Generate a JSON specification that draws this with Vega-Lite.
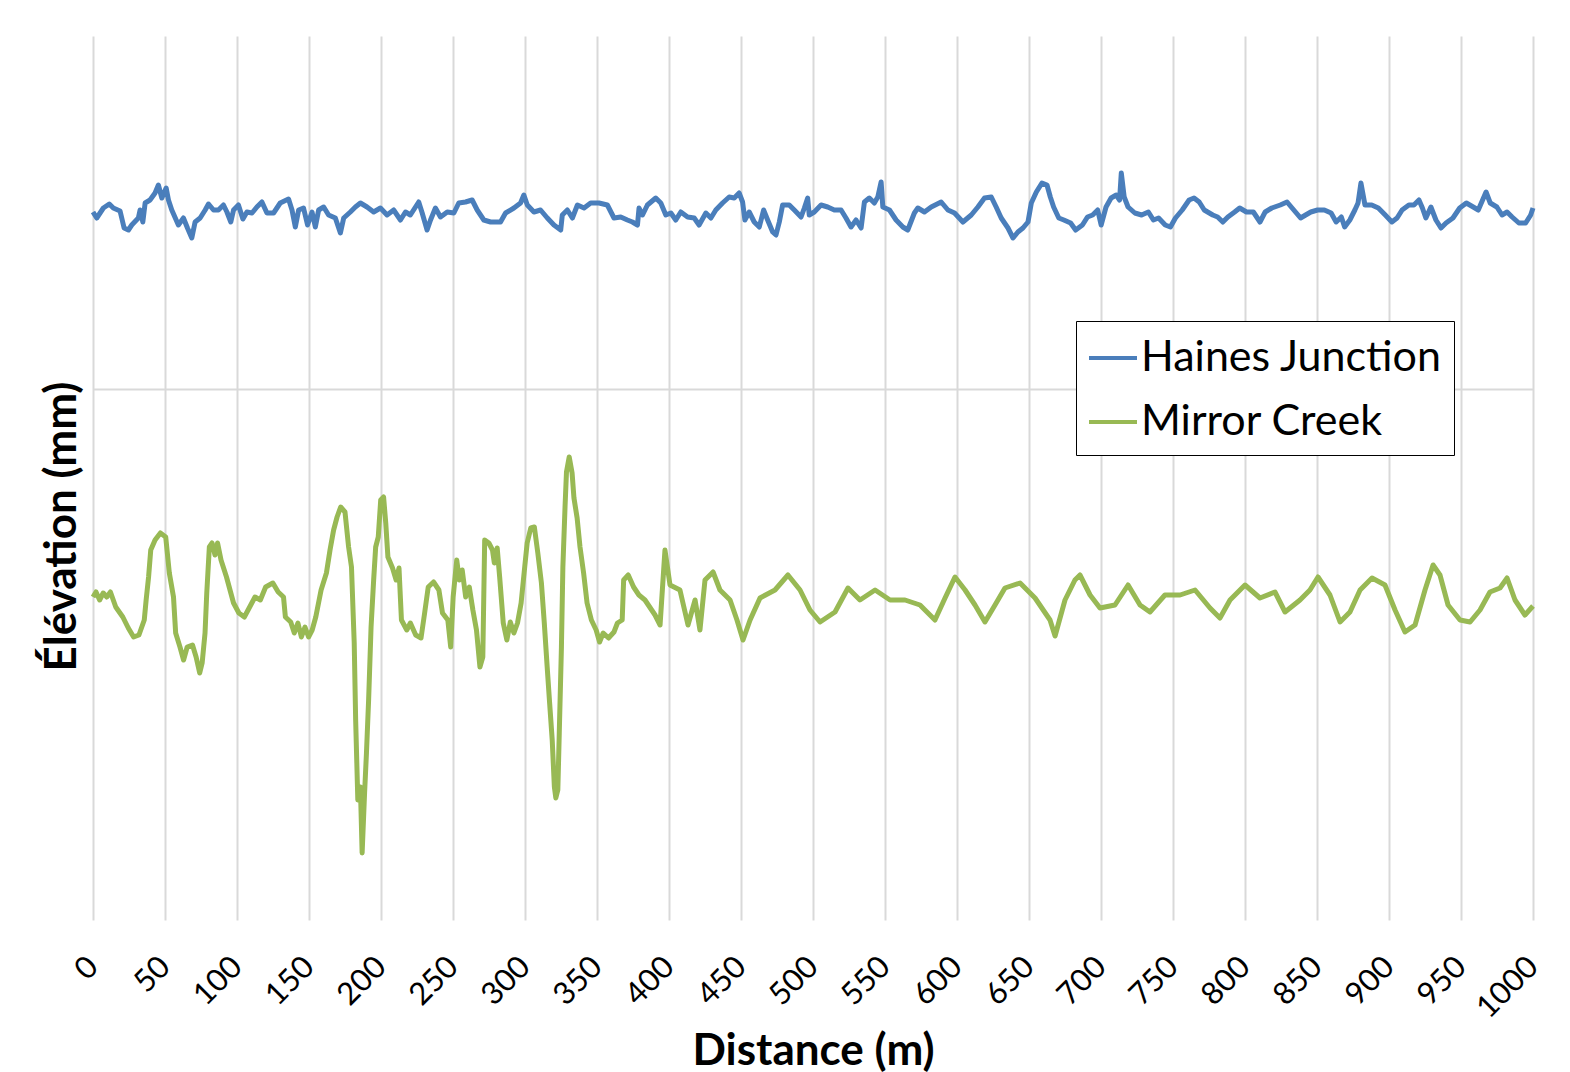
{
"$schema": "https://vega.github.io/schema/vega-lite/v6.json",
"width": 1440, "height": 884,
"autosize": {"type": "none"},
"padding": {"left": 93, "top": 36, "right": 37, "bottom": 152},
"background": "white",
"config": {"view": {"stroke": null}, "font": "Lato"},
"datasets": {
"hj": [
{"d":0,"v":17.7},{"d":2.6,"v":17.1},{"d":4.9,"v":17.6},{"d":7.2,"v":18.1},{"d":11.3,"v":18.5},{"d":14.1,"v":18.1},{"d":18.8,"v":17.8},{"d":21.6,"v":16.1},{"d":24.6,"v":15.9},{"d":26.9,"v":16.4},{"d":31.5,"v":17.1},{"d":32.7,"v":17.9},{"d":34.6,"v":16.7},{"d":36.2,"v":18.6},{"d":39.6,"v":18.9},{"d":43.1,"v":19.6},{"d":45.4,"v":20.4},{"d":47.8,"v":19.1},{"d":50.8,"v":20.1},{"d":52.4,"v":18.9},{"d":54.7,"v":17.9},{"d":59.3,"v":16.4},{"d":62.8,"v":17.1},{"d":65.6,"v":16.1},{"d":68.6,"v":15.1},{"d":70.9,"v":16.7},{"d":74.4,"v":17.1},{"d":77.9,"v":17.9},{"d":80.2,"v":18.5},{"d":83.7,"v":17.9},{"d":87.1,"v":17.9},{"d":90.6,"v":18.4},{"d":93.0,"v":17.7},{"d":95.7,"v":16.7},{"d":97.6,"v":17.9},{"d":101.0,"v":18.4},{"d":104.1,"v":17.0},{"d":106.9,"v":17.7},{"d":110.4,"v":17.6},{"d":113.8,"v":18.2},{"d":117.3,"v":18.7},{"d":120.8,"v":17.6},{"d":125.4,"v":17.6},{"d":130.0,"v":18.6},{"d":135.8,"v":19.0},{"d":138.2,"v":17.9},{"d":140.5,"v":16.2},{"d":142.8,"v":17.9},{"d":146.2,"v":18.1},{"d":149.0,"v":16.4},{"d":152.1,"v":17.7},{"d":154.4,"v":16.2},{"d":156.7,"v":17.9},{"d":160.2,"v":18.2},{"d":163.6,"v":17.4},{"d":168.3,"v":17.1},{"d":171.8,"v":15.6},{"d":174.1,"v":17.1},{"d":178.7,"v":17.7},{"d":182.2,"v":18.2},{"d":185.7,"v":18.6},{"d":190.3,"v":18.2},{"d":194.9,"v":17.7},{"d":199.6,"v":18.1},{"d":204.2,"v":17.4},{"d":208.8,"v":17.9},{"d":213.5,"v":16.9},{"d":217.0,"v":17.7},{"d":220.4,"v":17.4},{"d":226.2,"v":18.7},{"d":228.6,"v":17.6},{"d":232.0,"v":15.9},{"d":234.4,"v":16.9},{"d":237.8,"v":18.1},{"d":241.3,"v":17.2},{"d":246.0,"v":17.7},{"d":250.6,"v":17.6},{"d":254.0,"v":18.6},{"d":258.7,"v":18.7},{"d":263.3,"v":18.9},{"d":266.8,"v":17.9},{"d":271.4,"v":16.9},{"d":276.1,"v":16.7},{"d":283.0,"v":16.7},{"d":286.5,"v":17.6},{"d":292.3,"v":18.1},{"d":296.9,"v":18.6},{"d":299.2,"v":19.4},{"d":301.6,"v":18.4},{"d":306.2,"v":17.7},{"d":310.8,"v":17.9},{"d":315.5,"v":17.1},{"d":320.1,"v":16.4},{"d":324.8,"v":15.9},
{"d":325.9,"v":17.4},{"d":329.4,"v":17.9},{"d":332.9,"v":17.1},{"d":336.4,"v":18.4},{"d":341.0,"v":18.1},{"d":345.6,"v":18.6},{"d":351.4,"v":18.6},{"d":357.2,"v":18.4},{"d":361.8,"v":17.1},{"d":366.5,"v":17.2},{"d":371.1,"v":16.9},{"d":374.6,"v":16.7},{"d":378.1,"v":16.4},{"d":379.2,"v":18.1},{"d":381.6,"v":17.4},{"d":385.0,"v":18.4},{"d":390.8,"v":19.1},{"d":394.3,"v":18.6},{"d":397.8,"v":17.4},{"d":401.3,"v":17.6},{"d":404.7,"v":16.9},{"d":408.2,"v":17.7},{"d":412.9,"v":17.2},{"d":417.5,"v":17.1},{"d":420.9,"v":16.4},{"d":425.6,"v":17.6},{"d":429.1,"v":17.1},{"d":432.5,"v":17.9},{"d":437.2,"v":18.6},{"d":441.8,"v":19.2},{"d":445.3,"v":19.1},{"d":448.7,"v":19.6},{"d":451.1,"v":18.7},{"d":452.7,"v":16.9},{"d":455.7,"v":17.7},{"d":459.2,"v":16.7},{"d":462.7,"v":16.2},{"d":465.7,"v":17.9},{"d":468.5,"v":16.9},{"d":472.0,"v":15.7},{"d":474.3,"v":15.4},{"d":476.6,"v":16.7},{"d":478.9,"v":18.4},{"d":483.5,"v":18.4},{"d":487.0,"v":17.9},{"d":491.7,"v":17.2},{"d":494.0,"v":18.1},{"d":496.3,"v":19.1},{"d":497.4,"v":17.4},{"d":500.9,"v":17.7},{"d":505.6,"v":18.4},{"d":510.2,"v":18.2},{"d":514.8,"v":17.9},{"d":519.5,"v":17.9},{"d":522.9,"v":17.1},{"d":526.4,"v":16.2},{"d":529.9,"v":16.9},{"d":533.4,"v":16.1},{"d":535.7,"v":18.7},{"d":539.1,"v":19.1},{"d":542.6,"v":18.6},{"d":545.0,"v":19.2},{"d":547.3,"v":20.7},{"d":548.5,"v":18.2},{"d":553.1,"v":17.9},{"d":557.7,"v":16.9},{"d":562.4,"v":16.2},{"d":565.8,"v":15.9},{"d":570.4,"v":17.6},{"d":572.8,"v":18.1},{"d":577.4,"v":17.7},{"d":582.1,"v":18.2},{"d":589.0,"v":18.7},{"d":593.7,"v":17.9},{"d":598.3,"v":17.6},{"d":604.1,"v":16.7},{"d":609.9,"v":17.4},{"d":614.5,"v":18.2},{"d":619.1,"v":19.1},{"d":623.8,"v":19.2},{"d":627.2,"v":18.2},{"d":630.7,"v":17.1},{"d":635.4,"v":16.1},{"d":638.9,"v":15.1},{"d":642.3,"v":15.7},{"d":645.8,"v":16.1},{"d":649.3,"v":16.7},{"d":651.6,"v":18.6},{"d":655.1,"v":19.7},{"d":659.0,"v":20.6},
{"d":662.5,"v":20.4},{"d":664.8,"v":19.2},{"d":667.1,"v":18.2},{"d":670.7,"v":17.1},{"d":674.2,"v":16.9},{"d":678.9,"v":16.6},{"d":682.4,"v":15.9},{"d":687.1,"v":16.4},{"d":690.6,"v":17.2},{"d":694.2,"v":17.4},{"d":697.7,"v":17.9},{"d":700.1,"v":16.4},{"d":703.5,"v":18.2},{"d":707.0,"v":19.1},{"d":710.6,"v":19.4},{"d":712.9,"v":18.9},{"d":714.1,"v":21.6},{"d":716.1,"v":19.2},{"d":718.8,"v":18.2},{"d":723.5,"v":17.6},{"d":728.2,"v":17.4},{"d":732.9,"v":17.7},{"d":736.4,"v":16.9},{"d":740.0,"v":17.1},{"d":744.6,"v":16.4},{"d":748.2,"v":16.2},{"d":751.7,"v":17.1},{"d":756.4,"v":17.9},{"d":761.2,"v":18.9},{"d":764.6,"v":19.1},{"d":768.2,"v":18.7},{"d":771.7,"v":17.9},{"d":777.6,"v":17.4},{"d":781.0,"v":17.2},{"d":784.6,"v":16.7},{"d":788.1,"v":17.2},{"d":792.8,"v":17.7},{"d":796.3,"v":18.1},{"d":801.0,"v":17.7},{"d":805.8,"v":17.7},{"d":810.4,"v":16.7},{"d":814.0,"v":17.7},{"d":818.6,"v":18.1},{"d":824.5,"v":18.4},{"d":829.2,"v":18.7},{"d":832.7,"v":18.1},{"d":838.6,"v":17.1},{"d":842.1,"v":17.4},{"d":845.7,"v":17.7},{"d":850.4,"v":17.9},{"d":855.1,"v":17.9},{"d":859.8,"v":17.6},{"d":863.3,"v":16.7},{"d":866.9,"v":17.2},{"d":869.2,"v":16.2},{"d":872.8,"v":16.9},{"d":876.3,"v":17.9},{"d":878.5,"v":18.6},{"d":880.5,"v":20.6},{"d":883.3,"v":18.4},{"d":888.0,"v":18.4},{"d":892.6,"v":18.1},{"d":897.4,"v":17.4},{"d":902.0,"v":16.7},{"d":905.6,"v":17.1},{"d":909.1,"v":17.9},{"d":913.8,"v":18.4},{"d":917.3,"v":18.4},{"d":920.8,"v":18.9},{"d":923.2,"v":18.1},{"d":925.6,"v":17.1},{"d":929.1,"v":18.2},{"d":932.6,"v":16.9},{"d":936.1,"v":16.1},{"d":939.6,"v":16.6},{"d":944.4,"v":17.1},{"d":949.1,"v":18.1},{"d":953.7,"v":18.6},{"d":958.5,"v":18.2},{"d":962.0,"v":17.9},{"d":965.6,"v":19.1},{"d":967.4,"v":19.7},{"d":970.3,"v":18.6},{"d":974.9,"v":18.2},{"d":978.5,"v":17.4},{"d":982.0,"v":17.7},{"d":985.5,"v":17.2},{"d":990.2,"v":16.6},{"d":994.9,"v":16.6},{"d":998.4,"v":17.4},{"d":1000,"v":18.1}
],
"mc": [
{"d":0,"v":-20.8},{"d":2.1,"v":-20.3},{"d":4.6,"v":-21.1},{"d":7.1,"v":-20.4},{"d":9.6,"v":-20.8},{"d":12.1,"v":-20.3},{"d":15.8,"v":-21.8},{"d":20.7,"v":-22.8},{"d":24.5,"v":-23.9},{"d":28.2,"v":-24.8},{"d":31.9,"v":-24.6},{"d":35.6,"v":-23.1},{"d":36.9,"v":-21.1},{"d":38.6,"v":-18.8},{"d":40.1,"v":-16.1},{"d":43.1,"v":-15.1},{"d":46.8,"v":-14.4},{"d":50.5,"v":-14.8},{"d":53.0,"v":-18.4},{"d":55.9,"v":-20.8},{"d":57.4,"v":-24.4},{"d":60.4,"v":-25.8},{"d":62.9,"v":-27.1},{"d":65.4,"v":-25.8},{"d":69.1,"v":-25.6},{"d":71.6,"v":-26.8},{"d":74.1,"v":-28.4},{"d":75.8,"v":-27.4},{"d":77.8,"v":-24.4},{"d":79.0,"v":-20.4},{"d":80.8,"v":-15.8},{"d":82.7,"v":-15.4},{"d":84.7,"v":-16.6},{"d":86.5,"v":-15.4},{"d":88.9,"v":-17.1},{"d":92.7,"v":-18.8},{"d":97.6,"v":-21.4},{"d":101.3,"v":-22.4},{"d":105.1,"v":-22.8},{"d":108.8,"v":-21.8},{"d":112.5,"v":-20.8},{"d":116.2,"v":-21.1},{"d":119.9,"v":-19.8},{"d":124.9,"v":-19.4},{"d":128.6,"v":-20.3},{"d":132.3,"v":-20.8},{"d":133.6,"v":-22.8},{"d":137.3,"v":-23.3},{"d":139.8,"v":-24.4},{"d":142.3,"v":-23.4},{"d":144.7,"v":-24.8},{"d":147.2,"v":-23.8},{"d":149.7,"v":-24.8},{"d":152.2,"v":-24.1},{"d":154.7,"v":-22.8},{"d":158.4,"v":-20.1},{"d":162.1,"v":-18.4},{"d":164.6,"v":-16.1},{"d":167.1,"v":-14.1},{"d":169.5,"v":-12.8},{"d":172.0,"v":-11.8},{"d":175.0,"v":-12.3},{"d":177.5,"v":-15.8},{"d":179.5,"v":-17.8},{"d":181.4,"v":-25.4},{"d":182.4,"v":-33.1},{"d":183.9,"v":-41.1},{"d":185.7,"v":-39.8},{"d":186.9,"v":-46.4},{"d":188.6,"v":-40.4},{"d":189.9,"v":-36.4},{"d":191.4,"v":-31.1},{"d":193.1,"v":-23.8},{"d":194.9,"v":-19.1},{"d":196.3,"v":-15.8},{"d":198.1,"v":-14.8},{"d":199.8,"v":-11.1},{"d":201.8,"v":-10.8},{"d":203.3,"v":-13.4},{"d":204.8,"v":-16.8},{"d":208.0,"v":-17.9},{"d":210.5,"v":-19.1},{"d":212.5,"v":-17.9},{"d":214.2,"v":-23.1},{"d":217.9,"v":-24.1},{"d":220.4,"v":-23.4},{"d":224.1,"v":-24.6},{"d":227.8,"v":-24.9},{"d":230.3,"v":-22.4},{"d":232.8,"v":-19.8},{"d":236.5,"v":-19.3},{"d":240.2,"v":-20.1},{"d":242.7,"v":-22.4},{"d":246.4,"v":-23.1},{"d":248.4,"v":-25.8},{"d":250.1,"v":-20.8},{"d":252.6,"v":-17.1},{"d":254.4,"v":-19.1},{"d":256.4,"v":-18.1},{"d":258.8,"v":-20.8},{"d":261.3,"v":-19.8},{"d":263.8,"v":-22.1},{"d":266.3,"v":-24.1},{"d":268.7,"v":-27.8},{"d":270.7,"v":-26.8},{"d":272.0,"v":-15.1},{"d":274.9,"v":-15.4},{"d":277.4,"v":-16.1},{"d":278.7,"v":-17.4},{"d":280.7,"v":-15.9},{"d":282.4,"v":-18.8},{"d":284.9,"v":-23.4},{"d":287.4,"v":-25.1},{"d":289.8,"v":-23.3},{"d":292.3,"v":-24.4},{"d":294.8,"v":-23.4},{"d":297.3,"v":-21.4},{"d":299.8,"v":-17.8},{"d":301.5,"v":-15.4},{"d":304.0,"v":-13.9},{"d":306.5,"v":-13.8},{"d":308.9,"v":-16.4},{"d":311.4,"v":-19.4},{"d":313.4,"v":-23.4},{"d":315.4,"v":-27.8},{"d":317.1,"v":-31.4},{"d":318.9,"v":-35.1},{"d":320.4,"v":-39.8},{"d":321.4,"v":-40.9},{"d":322.8,"v":-40.1},{"d":323.8,"v":-34.4},{"d":325.3,"v":-25.8},{"d":326.3,"v":-17.8},{"d":327.8,"v":-11.8},{"d":328.8,"v":-8.3},{"d":330.7,"v":-6.8},{"d":332.7,"v":-8.4},{"d":334.0,"v":-10.9},{"d":336.2,"v":-12.9},{"d":338.2,"v":-15.8},{"d":340.7,"v":-18.4},{"d":343.1,"v":-21.4},{"d":346.1,"v":-23.1},{"d":349.4,"v":-24.1},{"d":351.8,"v":-25.3},{"d":354.3,"v":-24.4},{"d":358.0,"v":-24.9},{"d":361.8,"v":-24.3},{"d":364.2,"v":-23.4},{"d":367.5,"v":-23.1},{"d":368.5,"v":-19.1},{"d":371.7,"v":-18.6},{"d":375.4,"v":-19.8},{"d":379.1,"v":-20.6},
{"d":383.3,"v":-21.1},{"d":390.3,"v":-22.6},{"d":393.8,"v":-23.6},{"d":397.2,"v":-16.1},{"d":400.7,"v":-19.6},{"d":407.6,"v":-20.1},{"d":413.2,"v":-23.6},{"d":418.1,"v":-21.1},{"d":421.5,"v":-24.1},{"d":425.0,"v":-19.1},{"d":430.6,"v":-18.3},{"d":435.4,"v":-20.1},{"d":442.4,"v":-21.1},{"d":447.2,"v":-23.1},{"d":451.4,"v":-25.1},{"d":456.3,"v":-23.1},{"d":463.2,"v":-20.9},{"d":473.6,"v":-20.1},{"d":482.6,"v":-18.6},{"d":491.0,"v":-20.1},{"d":497.9,"v":-22.1},{"d":504.9,"v":-23.3},{"d":515.3,"v":-22.3},{"d":524.3,"v":-19.9},{"d":532.6,"v":-21.1},{"d":543.1,"v":-20.1},{"d":553.5,"v":-21.1},{"d":563.9,"v":-21.1},{"d":574.3,"v":-21.6},{"d":584.7,"v":-23.1},{"d":591.7,"v":-20.9},{"d":598.6,"v":-18.8},{"d":605.6,"v":-20.1},{"d":612.5,"v":-21.6},{"d":619.4,"v":-23.3},{"d":626.4,"v":-21.6},{"d":633.3,"v":-19.9},{"d":643.8,"v":-19.4},{"d":654.2,"v":-20.9},{"d":664.6,"v":-23.1},{"d":668.1,"v":-24.7},{"d":675.0,"v":-21.1},{"d":681.9,"v":-19.1},{"d":685.4,"v":-18.6},{"d":692.4,"v":-20.6},{"d":699.3,"v":-21.9},{"d":709.7,"v":-21.6},{"d":718.8,"v":-19.6},{"d":727.1,"v":-21.6},{"d":734.0,"v":-22.3},{"d":744.4,"v":-20.6},{"d":754.9,"v":-20.6},{"d":765.3,"v":-20.1},{"d":775.7,"v":-21.9},{"d":782.6,"v":-22.9},{"d":789.6,"v":-21.1},{"d":800.0,"v":-19.6},{"d":810.4,"v":-20.9},{"d":820.8,"v":-20.3},{"d":827.8,"v":-22.3},{"d":838.2,"v":-21.1},{"d":845.1,"v":-20.1},{"d":850.7,"v":-18.8},{"d":859.0,"v":-20.6},{"d":866.0,"v":-23.3},{"d":872.9,"v":-22.3},{"d":879.9,"v":-20.1},{"d":888.2,"v":-18.9},{"d":897.2,"v":-19.6},{"d":904.2,"v":-22.1},{"d":911.1,"v":-24.3},{"d":918.1,"v":-23.6},{"d":925.0,"v":-20.1},{"d":930.6,"v":-17.6},{"d":935.4,"v":-18.6},{"d":941.0,"v":-21.6},{"d":949.3,"v":-23.1},{"d":956.3,"v":-23.3},{"d":963.2,"v":-22.1},{"d":970.1,"v":-20.3},{"d":977.1,"v":-19.9},{"d":982.0,"v":-18.9},{"d":987.5,"v":-21.1},{"d":994.4,"v":-22.6},{"d":1000,"v":-21.7}
]
},
"layer": [
{"data": {"name": "hj"}, "transform": [{"calculate": "'Haines Junction'", "as": "s"}],
 "mark": {"type": "line", "strokeWidth": 5, "strokeJoin": "round"},
 "encoding": {
  "x": {"field": "d", "type": "quantitative", "scale": {"domain": [0, 1000], "nice": false, "zero": false},
   "axis": {"values": [0,50,100,150,200,250,300,350,400,450,500,550,600,650,700,750,800,850,900,950,1000], "format": "d", "grid": true, "gridColor": "#D9D9D9", "gridWidth": 2, "domain": false, "ticks": false, "labelAngle": -45, "labelAlign": "right", "labelBaseline": "middle", "labelFont": "Lato", "labelFontSize": 31, "labelPadding": 42, "labelColor": "black", "labelFlush": false, "labelOverlap": false, "labelBound": false, "title": "Distance (m)", "titleFont": "Lato", "titleFontSize": 44, "titleFontWeight": "bold", "titleColor": "black", "titleX": 720, "titleY": 144, "titleAlign": "center", "titleBaseline": "alphabetic"}},
  "y": {"field": "v", "type": "quantitative", "scale": {"domain": [-53.1, 35.3], "nice": false, "zero": false},
   "axis": {"values": [0], "grid": true, "gridColor": "#D9D9D9", "gridWidth": 2, "domain": false, "ticks": false, "labels": false, "title": "Élévation (mm)", "titleFont": "Lato", "titleFontSize": 44, "titleFontWeight": "bold", "titleColor": "black", "titleAngle": 270, "titleX": -18, "titleY": 490, "titleAlign": "center", "titleBaseline": "alphabetic"}},
  "color": {"field": "s", "type": "nominal", "scale": {"domain": ["Haines Junction", "Mirror Creek"], "range": ["#4A7EBB", "#98B954"]},
   "legend": {"title": null, "orient": "none", "legendX": 983, "legendY": 285, "symbolType": "stroke", "symbolSize": 2304, "symbolStrokeWidth": 4, "labelFont": "Lato", "labelFontSize": 43, "labelColor": "black", "labelLimit": 500, "labelOffset": 2, "strokeColor": "black", "fillColor": "white", "padding": 11, "rowPadding": 16}}
 }},
{"data": {"name": "mc"}, "transform": [{"calculate": "'Mirror Creek'", "as": "s"}],
 "mark": {"type": "line", "strokeWidth": 5, "strokeJoin": "round"},
 "encoding": {
  "x": {"field": "d", "type": "quantitative"},
  "y": {"field": "v", "type": "quantitative"},
  "color": {"field": "s", "type": "nominal"}
 }}
]
}
